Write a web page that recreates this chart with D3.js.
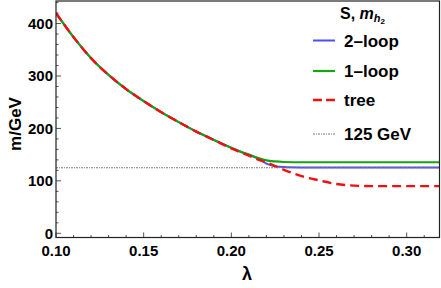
<!DOCTYPE html>
<html>
  <head>
    <meta charset="utf-8">
    <title>m vs lambda</title>
    <script src="https://d3js.org/d3.v7.min.js"></script>
    <style>
      body { margin: 0; background: #fff; }
      text { font-family: "Liberation Sans", Arial, sans-serif; font-weight: bold; }
    </style>
  </head>
  <body>
    <div id="my_dataviz"></div>
    <script>

    // values
    var lambda   = [0.10, 0.11, 0.12, 0.13, 0.14, 0.15, 0.16, 0.17, 0.18, 0.19, 0.20, 0.205, 0.21, 0.215, 0.22, 0.225, 0.23, 0.24, 0.25, 0.26, 0.27, 0.28, 0.29, 0.30, 0.31, 0.32]
    var twoLoop  = [420, 374, 334, 302, 275, 252, 231, 212, 194, 178, 163, 156, 150, 143, 133, 128, 126.5, 125.7, 125.5, 125.5, 125.5, 125.5, 125.5, 125.5, 125.5, 125.5]
    var oneLoop  = [420, 374, 334, 302, 275, 252, 231, 212, 194, 178, 163, 156, 150, 144, 139, 137, 136, 135.5, 135.5, 135.5, 135.5, 135.5, 135.5, 135.5, 135.5, 135.5]
    var treeLvl  = [420, 374, 334, 302, 275, 252, 231, 212, 194, 178, 162, 155, 148, 141, 135, 128, 121, 109, 101, 94, 91, 90, 90, 90, 90, 90]
    var higgs    = 125

    var xTicks = [0.10, 0.15, 0.20, 0.25, 0.30]
    var yTicks = [0, 100, 200, 300, 400]
    var legendNames = ["2\u2013loop", "1\u2013loop", "tree", "125 GeV"]

    var width = 441, height = 288
    var margin = {top: 1, right: 1, bottom: 50.5, left: 56}

    var svg = d3.select("#my_dataviz")
      .append("svg")
        .attr("width", width)
        .attr("height", height)

    var x = d3.scaleLinear()
      .domain([0.10, 0.319])
      .range([margin.left, width - margin.right])

    var y = d3.scaleLinear()
      .domain([-8, 443])
      .range([height - margin.bottom, margin.top])

    // minor ticks
    var xMinor = d3.range(0.10, 0.3195, 0.01).map(function(d){ return +d.toFixed(2) })
    var yMinor = d3.range(0, 441, 20)

    svg.append("g")
      .selectAll("line")
      .data(xMinor)
      .enter().append("line")
        .attr("x1", function(d){ return x(d) })
        .attr("x2", function(d){ return x(d) })
        .attr("y1", y(-8))
        .attr("y2", function(d){ return y(-8) - (xTicks.some(function(t){ return Math.abs(t-d) < 1e-6 }) ? 5 : 2.5) })
        .style("stroke", "#555")
        .style("stroke-width", 1)

    svg.append("g")
      .selectAll("line")
      .data(yMinor)
      .enter().append("line")
        .attr("x1", x(0.10))
        .attr("x2", function(d){ return x(0.10) + (d % 100 == 0 ? 5 : 2.5) })
        .attr("y1", function(d){ return y(d) })
        .attr("y2", function(d){ return y(d) })
        .style("stroke", "#555")
        .style("stroke-width", 1)

    // tick labels
    svg.append("g")
      .selectAll("text")
      .data(xTicks)
      .enter().append("text")
        .attr("x", function(d){ return x(d) })
        .attr("y", y(-8) + 18)
        .attr("text-anchor", "middle")
        .style("font-size", "15px")
        .text(function(d){ return d.toFixed(2) })

    svg.append("g")
      .selectAll("text")
      .data(yTicks)
      .enter().append("text")
        .attr("x", x(0.10) - 3)
        .attr("y", function(d){ return y(d) + 5.5 })
        .attr("text-anchor", "end")
        .style("font-size", "15px")
        .text(function(d){ return d })

    // axis titles
    svg.append("text")
      .attr("transform", "translate(21," + 124 + ") rotate(-90)")
      .attr("text-anchor", "middle")
      .style("font-size", "17px")
      .text("m/GeV")

    svg.append("text")
      .attr("x", 247)
      .attr("y", 280)
      .attr("text-anchor", "middle")
      .style("font-size", "18px")
      .text("\u03bb")

    // curves
    var rows = lambda.map(function(l, i){ return {l: l, a: twoLoop[i], b: oneLoop[i], c: treeLvl[i]} })
    var clip = svg.append("clipPath").attr("id", "clip")
      .append("rect")
        .attr("x", margin.left).attr("y", margin.top)
        .attr("width", width - margin.left - margin.right)
        .attr("height", y(-8) - margin.top)

    var plot = svg.append("g").attr("clip-path", "url(#clip)")

    function line(key) {
      return d3.line()
        .curve(d3.curveMonotoneX)
        .x(function(d){ return x(d.l) })
        .y(function(d){ return y(d[key]) })
    }

    plot.append("path").datum(rows)
      .attr("d", line("a"))
      .style("fill", "none").style("stroke", "#4f4fef").style("stroke-width", 2)

    plot.append("path").datum(rows)
      .attr("d", line("b"))
      .style("fill", "none").style("stroke", "#14a514").style("stroke-width", 2.2)

    plot.append("path").datum(rows)
      .attr("d", line("c"))
      .style("fill", "none").style("stroke", "#f01010").style("stroke-width", 2.4)
      .style("stroke-dasharray", "9,5")

    plot.append("line")
      .attr("x1", x(0.10)).attr("x2", x(0.319))
      .attr("y1", y(higgs)).attr("y2", y(higgs))
      .style("stroke", "#777").style("stroke-width", 1)
      .style("stroke-dasharray", "2,1,1,1")

    // frame
    svg.append("rect")
      .attr("x", margin.left).attr("y", margin.top)
      .attr("width", width - margin.left - margin.right - 0.5)
      .attr("height", y(-8) - margin.top)
      .style("fill", "none").style("stroke", "#222").style("stroke-width", 1.2)

    // legend
    var legendY = [40.5, 71, 100, 134]
    var legendStyle = [
      {c: "#4f4fef", w: 2, dash: null},
      {c: "#14a514", w: 2.2, dash: null},
      {c: "#f01010", w: 2.4, dash: "9,4"},
      {c: "#777", w: 1, dash: "2,1,1,1"}
    ]
    var leg = svg.append("g")
    var title = leg.append("text")
      .attr("x", 340).attr("y", 19)
      .style("font-size", "16px")
    title.append("tspan").text("S, ")
    title.append("tspan").style("font-style", "italic").text("m")
    title.append("tspan").style("font-style", "italic").style("font-size", "11px").attr("dy", 3).text("h")
    title.append("tspan").style("font-size", "8px").attr("dy", 2).text("2")

    legendNames.forEach(function(name, i){
      leg.append("line")
        .attr("x1", 313).attr("x2", 335)
        .attr("y1", legendY[i]).attr("y2", legendY[i])
        .style("stroke", legendStyle[i].c)
        .style("stroke-width", legendStyle[i].w)
        .style("stroke-dasharray", legendStyle[i].dash)
      leg.append("text")
        .attr("x", 344).attr("y", legendY[i] + 6)
        .style("font-size", "17px")
        .text(name)
    })

    </script>
  </body>
</html>
